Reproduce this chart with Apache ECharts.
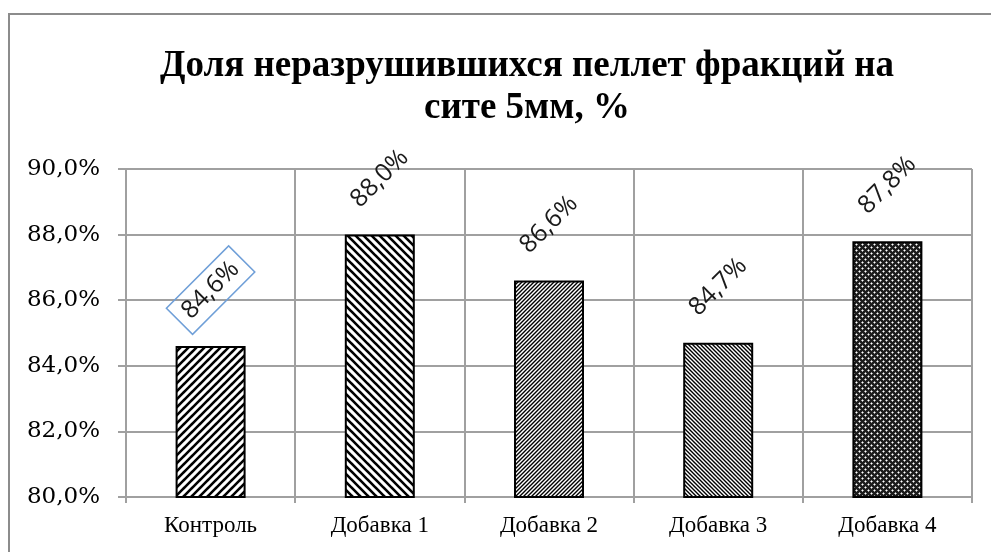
<!DOCTYPE html>
<html>
<head>
<meta charset="utf-8">
<script src="https://cdn.jsdelivr.net/npm/echarts@6/dist/echarts.min.js"></script>
<style>
html,body{margin:0;padding:0;background:#fff;}
#c{width:991px;height:552px;}
</style>
</head>
<body>
<div id="c"></div>
<script>
const titleLines = ['Доля неразрушившихся пеллет фракций на', 'сите 5мм, %'];
const categories = ['Контроль', 'Добавка 1', 'Добавка 2', 'Добавка 3', 'Добавка 4'];
const values = [84.6, 88.0, 86.6, 84.7, 87.8];
const yTicks = [80, 82, 84, 86, 88, 90];

function stripe(size, width, dir) {
  const c = document.createElement('canvas');
  c.width = size; c.height = size;
  const g = c.getContext('2d');
  g.fillStyle = '#fff'; g.fillRect(0, 0, size, size);
  g.strokeStyle = '#000'; g.lineWidth = width; g.lineCap = 'square';
  g.beginPath();
  for (let k = -1; k <= 1; k++) {
    if (dir > 0) { g.moveTo(k * size, size); g.lineTo(k * size + size, 0); }
    else { g.moveTo(k * size, 0); g.lineTo(k * size + size, size); }
  }
  g.stroke();
  return { image: c, repeat: 'repeat' };
}
function dots() {
  const s = 6;
  const c = document.createElement('canvas');
  c.width = s; c.height = s;
  const g = c.getContext('2d');
  g.fillStyle = '#1c1c1c'; g.fillRect(0, 0, s, s);
  g.fillStyle = '#9a9a9a';
  const plus = (x, y) => { g.fillRect(x, y - 1, 1, 3); g.fillRect(x - 1, y, 3, 1); };
  plus(1, 1); plus(4, 4);
  g.fillStyle = '#ffffff';
  g.fillRect(1, 1, 1, 1); g.fillRect(4, 4, 1, 1);
  return { image: c, repeat: 'repeat' };
}
const patterns = [stripe(8, 2.6, 1), stripe(8, 2.6, -1), stripe(4, 1.4, 1), stripe(4, 1.4, -1), dots()];

const fmt = v => v.toFixed(1).replace('.', ',') + '%';

const chart = echarts.init(document.getElementById('c'), null, { renderer: 'canvas' });
chart.setOption({
  animation: false,
  backgroundColor: '#fff',
  graphic: [{
    type: 'rect', shape: { x: 9, y: 14, width: 1000, height: 560 },
    style: { fill: 'none', stroke: '#8c8c8c', lineWidth: 2 }, silent: true, z: -1
  }],
  title: {
    text: titleLines.join('\n'),
    left: 522, top: 40, textAlign: 'center',
    textStyle: { fontFamily: 'Liberation Serif', fontWeight: 'bold', fontSize: 37, lineHeight: 42, color: '#000' }
  },
  grid: { left: 126, right: 19, top: 169, bottom: 55, containLabel: false },
  xAxis: {
    type: 'category', data: categories,
    axisLine: { lineStyle: { color: '#a0a0a0', width: 2 } },
    axisTick: { show: true, length: 6, lineStyle: { color: '#a0a0a0', width: 2 } },
    splitLine: { show: true, lineStyle: { color: '#a0a0a0', width: 2 } },
    axisLabel: { margin: 17, fontFamily: 'Liberation Serif', fontSize: 23, color: '#000' }
  },
  yAxis: {
    type: 'value', min: yTicks[0], max: yTicks[yTicks.length - 1], interval: 2,
    axisLine: { show: true, lineStyle: { color: '#a0a0a0', width: 2 } },
    axisTick: { show: true, length: 8, lineStyle: { color: '#a0a0a0', width: 2 } },
    splitLine: { show: true, lineStyle: { color: '#a0a0a0', width: 2 } },
    axisLabel: { margin: 26, fontFamily: 'DejaVu Serif', fontSize: 23, color: '#000', formatter: fmt }
  },
  series: [{
    type: 'bar', barWidth: 70,
    data: values.map((v, i) => {
      const d = { value: v, itemStyle: { color: patterns[i], borderColor: '#000', borderWidth: 2 } };
      if (i === 0) d.label = { borderColor: '#6f9fd8', borderWidth: 1.5, padding: [7, 9, 5, 9] };
      return d;
    }),
    label: {
      show: true, position: 'top', distance: 56, rotate: 45,
      align: 'center', verticalAlign: 'middle',
      fontFamily: 'Open Sans', fontSize: 25, color: '#1a1a1a',
      formatter: p => fmt(p.value)
    }
  }]
});
</script>
</body>
</html>
